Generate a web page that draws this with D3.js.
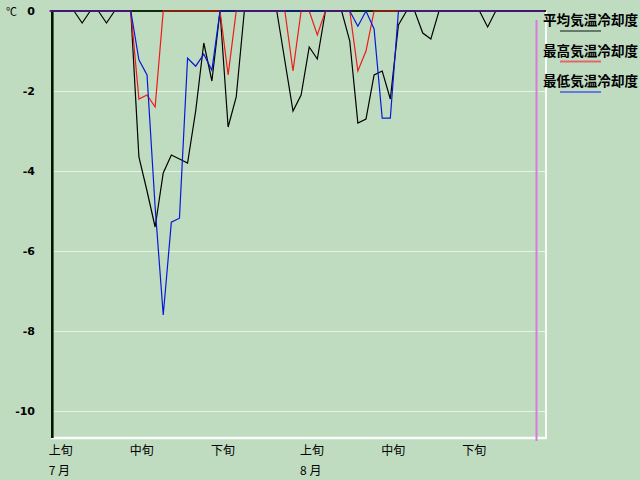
<!DOCTYPE html>
<html>
<head>
<meta charset="utf-8">
<script src="https://cdn.jsdelivr.net/npm/d3@7"></script>
<style>
  body { margin: 0; background: #c0dcc0; }
  svg { display: block; }
  text { font-family: "Noto Sans CJK JP", sans-serif; fill: #000; white-space: pre; }
</style>
</head>
<body>
<script>
// 7/1 〜 8/31 の日別値 (℃)
var meanCool = [0, 0, 0, 0, -0.3, 0, 0, -0.3, 0, 0,
  0, -3.65, -4.5, -5.4, -4.05, -3.6, -3.7, -3.8, -2.5, -0.8,
  -1.75, 0, -2.9, -2.15, 0, 0, 0, 0, 0, -1.25,
  -2.5, -2.1, -0.9, -1.2, 0, 0, 0, -0.75, -2.8, -2.7,
  -1.6, -1.5, -2.2, -0.35, 0, 0, -0.55, -0.7, 0, 0,
  0, 0, 0, 0, -0.4, 0, 0, 0, 0, 0, 0, 0];
var maxCool = [0, 0, 0, 0, 0, 0, 0, 0, 0, 0,
  0, -2.2, -2.1, -2.4, 0, 0, 0, 0, 0, 0,
  0, 0, -1.6, 0, 0, 0, 0, 0, 0, 0,
  -1.5, 0, 0, -0.6, 0, 0, 0, 0, -1.5, -1.0,
  0, 0, 0, 0, 0, 0, 0, 0, 0, 0,
  0, 0, 0, 0, 0, 0, 0, 0, 0, 0, 0, 0];
var minCool = [0, 0, 0, 0, 0, 0, 0, 0, 0, 0,
  0, -1.22, -1.6, -4.9, -7.6, -5.28, -5.18, -1.18, -1.38, -1.08,
  -1.48, 0, 0, 0, 0, 0, 0, 0, 0, 0,
  0, 0, 0, 0, 0, 0, 0, 0, -0.38, 0,
  -0.45, -2.68, -2.68, 0, 0, 0, 0, 0, 0, 0,
  0, 0, 0, 0, 0, 0, 0, 0, 0, 0, 0, 0];

var junNames  = ['上旬', '中旬', '下旬', '上旬', '中旬', '下旬'];
var junStart  = [0, 10, 20, 31, 41, 51];
var monthNames = ['7 月', '8 月'];
var monthStart = [0, 31];
var yTicks = [0, -2, -4, -6, -8, -10];
var legendNames = ['平均気温冷却度', '最高気温冷却度', '最低気温冷却度'];
var todayIdx = 60;

var W = 640, H = 480;
var x = d3.scaleLinear().domain([0, 61]).range([49.7, 544.4]);
var y = d3.scaleLinear().domain([0, -10]).range([11, 411]);
var plotL = 51, plotR = 546, plotT = 11, plotB = 438;

var svg = d3.select('body').append('svg')
  .attr('width', W).attr('height', H);

svg.append('rect').attr('width', W).attr('height', H).attr('fill', '#c0dcc0');

// グリッド
svg.selectAll('.grid')
  .data(yTicks.filter(function (d) { return d !== 0; }))
  .enter().append('line')
  .attr('class', 'grid')
  .attr('x1', plotL).attr('x2', plotR)
  .attr('y1', function (d) { return Math.round(y(d)) + 0.5; })
  .attr('y2', function (d) { return Math.round(y(d)) + 0.5; })
  .attr('stroke', '#e6f2e6').attr('stroke-width', 1);

// 枠 (右・下は白)
svg.append('line')
  .attr('x1', plotL).attr('x2', plotR + 1)
  .attr('y1', plotB).attr('y2', plotB)
  .attr('stroke', '#f8fcf8').attr('stroke-width', 2.5);
svg.append('line')
  .attr('x1', plotR).attr('x2', plotR)
  .attr('y1', plotT).attr('y2', plotB)
  .attr('stroke', '#f8fcf8').attr('stroke-width', 2);

// 上・左の軸
svg.append('line')
  .attr('x1', plotL).attr('x2', plotR)
  .attr('y1', plotT).attr('y2', plotT)
  .attr('stroke', '#0c2a0c').attr('stroke-width', 2);
svg.append('line')
  .attr('x1', plotL + 1).attr('x2', plotL + 1)
  .attr('y1', plotT).attr('y2', plotB)
  .attr('stroke', '#001400').attr('stroke-width', 2);
svg.append('line')
  .attr('x1', plotL + 2.5).attr('x2', plotL + 2.5)
  .attr('y1', plotT + 1).attr('y2', plotB)
  .attr('stroke', '#4a6a4a').attr('stroke-width', 1);

// 今日の線
svg.append('line')
  .attr('x1', Math.round(x(todayIdx)) + 0.5).attr('x2', Math.round(x(todayIdx)) + 0.5)
  .attr('y1', 20).attr('y2', 441)
  .attr('stroke', '#d87ad8').attr('stroke-width', 2);

// 系列
var line = d3.line()
  .x(function (d, i) { return x(i); })
  .y(function (d) { return y(d); });

var series = [
  {values: meanCool, color: '#000000'},
  {values: maxCool, color: '#f01818'},
  {values: minCool, color: '#0818d8'}
];
svg.selectAll('.series')
  .data(series)
  .enter().append('path')
  .attr('class', 'series')
  .attr('d', function (d) { return line(d.values); })
  .attr('fill', 'none')
  .attr('stroke', function (d) { return d.color; })
  .attr('stroke-width', 1.2);

// Y軸ラベル
svg.append('text').attr('x', 6).attr('y', 16)
  .style('font-size', '11px').text('℃');
svg.selectAll('.ylab')
  .data(yTicks)
  .enter().append('text')
  .attr('class', 'ylab')
  .attr('x', 35)
  .attr('y', function (d) { return y(d) + 4; })
  .attr('text-anchor', 'end')
  .style('font-size', '11px').style('font-weight', 'bold')
  .style('font-family', 'DejaVu Sans, sans-serif')
  .text(function (d) { return d; });

// X軸ラベル
svg.selectAll('.xlab')
  .data(junNames)
  .enter().append('text')
  .attr('class', 'xlab')
  .attr('x', function (d, i) { return x(junStart[i]) - 1; })
  .attr('y', 455)
  .style('font-size', '12px')
  .text(function (d) { return d; });
svg.selectAll('.mlab')
  .data(monthNames)
  .enter().append('text')
  .attr('class', 'mlab')
  .attr('x', function (d, i) { return x(monthStart[i]) - 1; })
  .attr('y', 475)
  .style('font-size', '12px')
  .text(function (d) { return d; });

// 凡例
var legColors = ['#687868', '#e06868', '#6878e0'];
var leg = svg.selectAll('.leg')
  .data(legendNames)
  .enter().append('g')
  .attr('class', 'leg')
  .attr('transform', function (d, i) { return 'translate(543,' + (25 + i * 30.5) + ')'; });
leg.append('text')
  .style('font-size', '13.6px').style('font-weight', 'bold')
  .text(function (d) { return d; });
leg.append('line')
  .attr('x1', 17).attr('x2', 58)
  .attr('y1', 6).attr('y2', 6)
  .attr('stroke', function (d, i) { return legColors[i]; })
  .attr('stroke-width', 2);
</script>
</body>
</html>
